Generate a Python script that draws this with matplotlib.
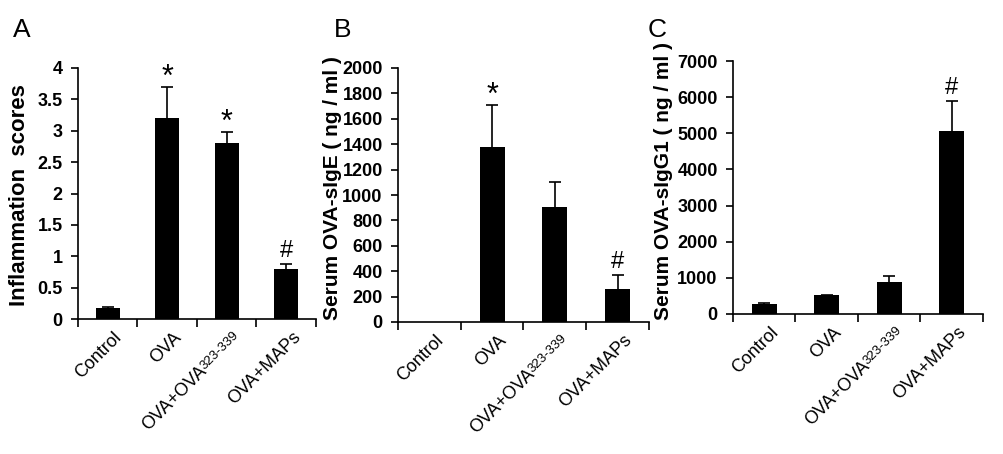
import matplotlib
matplotlib.use("Agg")
import matplotlib.pyplot as plt
from matplotlib.textpath import TextPath
from matplotlib.font_manager import FontProperties
import numpy as np

plt.rcParams['font.family'] = ['Liberation Sans', 'DejaVu Sans']

categories = ['Control', 'OVA', 'OVA+OVA', 'OVA+MAPs']
category_suffix = ['', '', '323-339', '']

inflammation = [0.18, 3.2, 2.8, 0.79]
inflammation_err = [0.01, 0.49, 0.18, 0.08]
inflammation_marks = ['', '*', '*', '#']

sige = [0, 1380, 908, 260]
sige_err = [0, 330, 195, 110]
sige_marks = ['', '*', '', '#']

sigg1 = [268, 517, 894, 5070]
sigg1_err = [45, 18, 157, 820]
sigg1_marks = ['', '', '', '#']

W, H = 1004, 454
fig = plt.figure(figsize=(W / 100, H / 100), dpi=100)

panels = [
    dict(rect=(78, 68, 316, 319), vals=inflammation, err=inflammation_err, marks=inflammation_marks,
         ymax=4, yticks=[0, 0.5, 1, 1.5, 2, 2.5, 3, 3.5, 4],
         yticklabels=['0', '0.5', '1', '1.5', '2', '2.5', '3', '3.5', '4'],
         ylabel='Inflammation  scores', ylabel_xy=(20, 195), ylabel_fs=16, letter='A', letter_xy=(13, 37)),
    dict(rect=(398, 68, 649, 322), vals=sige, err=sige_err, marks=sige_marks,
         ymax=2000, yticks=list(range(0, 2001, 200)),
         yticklabels=[str(v) for v in range(0, 2001, 200)],
         ylabel='Serum OVA-sIgE ( ng / ml )', ylabel_xy=(333, 188), ylabel_fs=15, letter='B', letter_xy=(334, 37)),
    dict(rect=(733, 61, 983, 314), vals=sigg1, err=sigg1_err, marks=sigg1_marks,
         ymax=7000, yticks=list(range(0, 7001, 1000)),
         yticklabels=[str(v) for v in range(0, 7001, 1000)],
         ylabel='Serum OVA-sIgG1 ( ng / ml )', ylabel_xy=(664, 181), ylabel_fs=15, letter='C', letter_xy=(648, 37)),
]

LABEL_FS = 13
SMALL_FS = 9.5
c = s = np.cos(np.pi / 4)
base_off = np.array([4 + 0.73 * LABEL_FS * s, -7 - 0.73 * LABEL_FS * c])
raise_pt = 0.72 * (LABEL_FS - SMALL_FS)
fp = FontProperties(family='Liberation Sans')

x = np.arange(1, 5)
for p in panels:
    x0, y0, x1, y1 = p['rect']
    ax = fig.add_axes([x0 / W, 1 - y1 / H, (x1 - x0) / W, (y1 - y0) / H])
    vals = np.array(p['vals'], dtype=float)
    err = np.array(p['err'], dtype=float)
    ax.bar(x, vals, width=0.4, color='black', linewidth=0, zorder=2)
    show = err > 0
    ax.vlines(x[show], vals[show], vals[show] + err[show], color='black', linewidth=1.2, zorder=1)
    ax.plot(x[show], (vals + err)[show], linestyle='none', marker='_', markersize=9,
            markeredgewidth=1.2, color='black', zorder=1)
    for xi, v, e, m in zip(x, vals, err, p['marks']):
        if m == '*':
            ax.annotate(m, xy=(xi, v + e), xytext=(0, 1), textcoords='offset points',
                        ha='center', va='baseline', fontsize=22, color='black')
        elif m:
            ax.annotate(m, xy=(xi, v + e), xytext=(0, 1.5), textcoords='offset points',
                        ha='center', va='bottom', fontsize=17, color='black')
    ax.set_xlim(0.5, 4.5)
    ax.set_ylim(0, p['ymax'])
    ax.spines['top'].set_visible(False)
    ax.spines['right'].set_visible(False)
    ax.spines['left'].set_linewidth(1.2)
    ax.spines['bottom'].set_linewidth(1.2)
    ax.set_yticks(p['yticks'])
    ax.set_yticklabels(p['yticklabels'], fontsize=13, fontweight='bold')
    ax.tick_params(axis='y', direction='out', length=5, width=1.2, pad=6)
    ax.set_xticks([0.5, 1.5, 2.5, 3.5, 4.5])
    ax.set_xticklabels([])
    ax.tick_params(axis='x', direction='out', length=6, width=1.2)
    for xi, lab, suf in zip(x, categories, category_suffix):
        off = base_off.copy()
        if suf:
            ax.annotate(suf, xy=(xi, 0), xycoords=('data', 'axes fraction'),
                        xytext=(off[0] + (-s) * raise_pt, off[1] + c * raise_pt),
                        textcoords='offset points', rotation=45, ha='right', va='baseline',
                        rotation_mode='anchor', fontsize=SMALL_FS)
            w2 = TextPath((0, 0), suf, size=SMALL_FS, prop=fp).get_extents().width + 0.8
            off = off - w2 * np.array([c, s])
        ax.annotate(lab, xy=(xi, 0), xycoords=('data', 'axes fraction'),
                    xytext=tuple(off), textcoords='offset points',
                    rotation=45, ha='right', va='baseline', rotation_mode='anchor',
                    fontsize=LABEL_FS)
    lxy = p['ylabel_xy']
    fig.text(lxy[0] / W, 1 - lxy[1] / H, p['ylabel'], rotation=90,
             ha='center', va='center', fontsize=p['ylabel_fs'], fontweight='bold')
    lx, ly = p['letter_xy']
    fig.text(lx / W, 1 - ly / H, p['letter'], fontsize=19, ha='left', va='baseline')

fig.savefig('out.png', dpi=100)
